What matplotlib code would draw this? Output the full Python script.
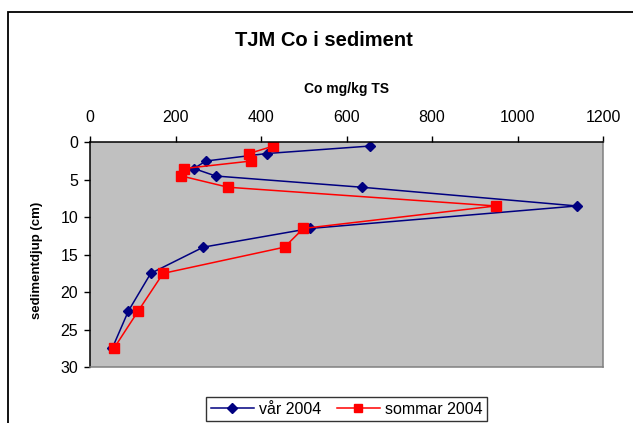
import matplotlib
matplotlib.use("Agg")
import matplotlib.pyplot as plt
from matplotlib.patches import Rectangle

plt.rcParams['font.family'] = ['Liberation Sans', 'DejaVu Sans']

depth = [0.5, 1.5, 2.5, 3.5, 4.5, 6, 8.5, 11.5, 14, 17.5, 22.5, 27.5]
var_2004 = [655, 413, 271, 243, 294, 636, 1139, 515, 265, 142, 90, 52]
sommar_2004 = [429, 372, 377, 220, 214, 323, 949, 499, 455, 171, 113, 56]
xticks = [0, 200, 400, 600, 800, 1000, 1200]
yticks = [0, 5, 10, 15, 20, 25, 30]

W, H = 633, 423
fig = plt.figure(figsize=(W / 100, H / 100), dpi=100)
fig.patch.set_facecolor('white')

# outer chart frame
fig.patches.append(Rectangle((8 / W, -0.2), 1.2, 1 - 12 / H + 0.2,
                             transform=fig.transFigure, fill=False,
                             edgecolor='black', linewidth=1.3))

L, R, T, B = 90, 603, 142.3, 367
ax = fig.add_axes([L / W, 1 - B / H, (R - L) / W, (B - T) / H])
ax.set_facecolor('#C0C0C0')

ax.plot(var_2004, depth, color='#000080', marker='D', markersize=5.5,
        linewidth=1.1, label='vår 2004')
ax.plot(sommar_2004, depth, color='#FF0000', marker='s', markersize=7,
        linewidth=1.1, label='sommar 2004')

ax.set_xlim(0, 1200)
ax.set_ylim(30, 0)
ax.set_xticks(xticks)
ax.set_yticks(yticks)
ax.xaxis.tick_top()
ax.tick_params(axis='both', direction='out', length=4.5, width=1,
               labelsize=11.5, colors='black', pad=4)
ax.tick_params(axis='x', pad=7.7)
for s in ['left', 'top']:
    ax.spines[s].set_color('black')
    ax.spines[s].set_linewidth(1.1)
for s in ['right', 'bottom']:
    ax.spines[s].set_color('#808080')
    ax.spines[s].set_linewidth(1.1)

fig.text(323.5 / W, 1 - 40 / H, 'TJM Co i sediment', ha='center', va='center',
         fontsize=14.5, fontweight='bold')
fig.text(346 / W, 1 - 89 / H, 'Co mg/kg TS', ha='center', va='center',
         fontsize=10, fontweight='bold')
fig.text(37 / W, 1 - 260 / H, 'sedimentdjup (cm)', ha='center', va='center',
         rotation=90, fontsize=9.5, fontweight='bold')

leg = fig.legend(loc='center', bbox_to_anchor=(346.5 / W, 1 - 409 / H),
                 ncol=2, frameon=True, fancybox=False, fontsize=11.5,
                 handlelength=2.7, columnspacing=1.0, handletextpad=0.3,
                 borderpad=0.3, markerscale=0.9)
leg.get_frame().set_edgecolor('black')
leg.get_frame().set_linewidth(1.0)

fig.savefig('out.png', dpi=100)
